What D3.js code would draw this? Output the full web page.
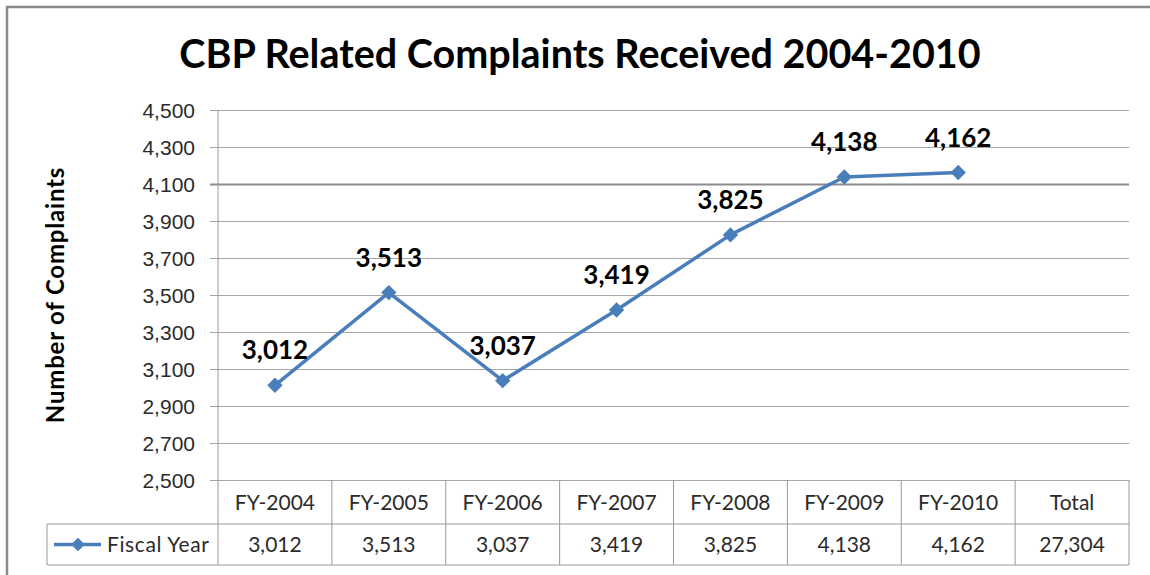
<!DOCTYPE html>
<html><head><meta charset="utf-8">
<script src="https://cdn.jsdelivr.net/npm/d3@7"></script>
<style>
body{margin:0;background:#fff;}
svg{display:block;font-family:Lato,"Open Sans",sans-serif;}
</style></head>
<body><svg id="c" width="1150" height="575"></svg>
<script>
const categories = ["FY-2004","FY-2005","FY-2006","FY-2007","FY-2008","FY-2009","FY-2010","Total"];
const values = [3012,3513,3037,3419,3825,4138,4162];
const tableValues = [3012,3513,3037,3419,3825,4138,4162,27304];
const yTicks = [2500,2700,2900,3100,3300,3500,3700,3900,4100,4300,4500];
const seriesName = "Fiscal Year";
const titleText = "CBP Related Complaints Received 2004-2010";
const yTitle = "Number of Complaints";

const svg = d3.select("#c");
const fmt = d3.format(",");
const L = 218, R = 1129, T = 110, B = 480, row1 = 524, row2 = 565, legL = 47;
const blue = "#4A7EBB", grid = "#a6a6a6", tcol = "#999", tx = "#2b2b2b";

// outer border
svg.append("path").attr("d","M7,580 V7 H1160").attr("fill","none").attr("stroke","#8a8a8a").attr("stroke-width",2.5);

const x = d3.scaleBand().domain(categories).range([L,R]);
const y = d3.scaleLinear().domain([2500,4500]).range([B,T]);

// gridlines + y axis
const yAxis = d3.axisLeft(y).tickValues(yTicks).tickFormat(fmt).tickSize(-(R-210)).tickPadding(15);
const ga = svg.append("g").attr("transform",`translate(210,0)`).call(yAxis);
ga.select(".domain").remove();
ga.selectAll(".tick line").attr("stroke",d=>d===4100?"#8c8c8c":grid).attr("stroke-width",d=>d===4100?2:1);
ga.selectAll(".tick text").attr("font-size",21).attr("fill",tx).attr("x",-15).attr("dy","0.34em");
// vertical axis line
svg.append("line").attr("x1",L).attr("x2",L).attr("y1",T).attr("y2",row2).attr("stroke",tcol);

// table grid
svg.append("line").attr("x1",legL).attr("x2",R).attr("y1",row1).attr("y2",row1).attr("stroke",tcol);
svg.append("line").attr("x1",legL).attr("x2",R).attr("y1",row2).attr("y2",row2).attr("stroke",tcol);
svg.append("line").attr("x1",legL).attr("x2",legL).attr("y1",row1).attr("y2",row2).attr("stroke",tcol);
svg.selectAll(".vcol").data(categories).join("line")
  .attr("x1",d=>x(d)+x.bandwidth()).attr("x2",d=>x(d)+x.bandwidth())
  .attr("y1",B).attr("y2",row2).attr("stroke",tcol);
svg.selectAll(".hdr").data(categories).join("text")
  .attr("x",d=>x(d)+x.bandwidth()/2).attr("y",(B+row1)/2+7.5)
  .attr("text-anchor","middle").attr("font-size",21).attr("fill",tx).text(d=>d);
svg.selectAll(".tv").data(tableValues).join("text")
  .attr("x",(d,i)=>x(categories[i])+x.bandwidth()/2).attr("y",(row1+row2)/2+7.5)
  .attr("text-anchor","middle").attr("font-size",21).attr("fill",tx).text(d=>fmt(d));

// legend key
const ly = (row1+row2)/2;
svg.append("line").attr("x1",54).attr("x2",101).attr("y1",ly).attr("y2",ly).attr("stroke",blue).attr("stroke-width",3.5);
svg.append("path").attr("d",d3.symbol(d3.symbolDiamond2,120)()).attr("transform",`translate(78,${ly})`).attr("fill",blue);
svg.append("text").attr("x",107).attr("y",ly+7.5).attr("font-size",21).attr("letter-spacing",0.6).attr("fill",tx).text(seriesName);

// line
const cx = (d,i)=>x(categories[i])+x.bandwidth()/2;
svg.append("path").datum(values)
  .attr("d",d3.line().x(cx).y(d=>y(d)))
  .attr("fill","none").attr("stroke",blue).attr("stroke-width",3.5).attr("stroke-linejoin","round");
svg.selectAll(".mk").data(values).join("path")
  .attr("d",d3.symbol(d3.symbolDiamond2,150)())
  .attr("transform",(d,i)=>`translate(${cx(d,i)},${y(d)})`).attr("fill",blue);
svg.selectAll(".dl").data(values).join("text")
  .attr("x",cx).attr("y",d=>y(d)-26).attr("text-anchor","middle")
  .attr("font-size",26).attr("font-weight","bold").attr("fill","#000").text(d=>fmt(d));

// titles
svg.append("text").attr("x",580).attr("y",68).attr("text-anchor","middle")
  .attr("font-size",39.5).attr("font-weight","bold").attr("fill","#000").text(titleText);
svg.append("text").attr("transform","translate(64,295) rotate(-90)").attr("text-anchor","middle")
  .attr("font-size",24).attr("letter-spacing",0.8).attr("font-weight","bold").attr("fill","#000").text(yTitle);
</script></body></html>
